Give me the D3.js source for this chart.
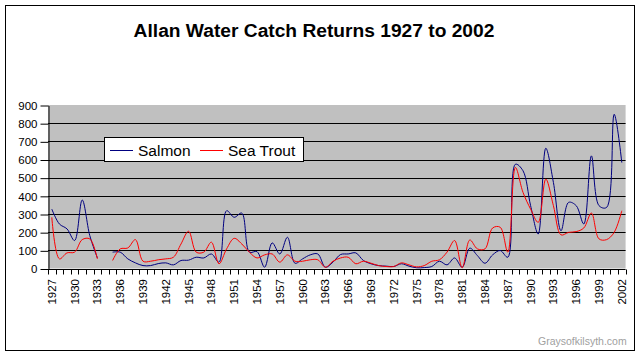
<!DOCTYPE html>
<html><head><meta charset="utf-8">
<script src="https://cdn.jsdelivr.net/npm/d3@7"></script>
<style>
html,body{margin:0;padding:0;background:#fff;}
svg{display:block;font-family:"Liberation Sans",Arial,sans-serif;}
</style></head>
<body><svg id="c" width="641" height="356"></svg>
<script>
const years = d3.range(1927, 2003).map(String);
const yTicks = [0,100,200,300,400,500,600,700,800,900];
const xLabelYears = d3.range(1927, 2003, 3).map(String);
const seriesNames = ["Salmon", "Sea Trout"];
const seriesColors = ["#000080", "#FF0000"];
const salmon = [327,245,218,154,377,181,58,null,90,90,53,31,16,16,27,31,20,44,46,
  62,58,80,35,318,282,305,90,93,7,141,80,172,29,53,75,80,7,
  35,77,80,86,44,26,16,13,11,26,13,4,5,11,40,20,58,7,
  112,71,29,75,99,62,574,538,346,190,662,474,208,364,346,245,620,346,336,849,583];
const seaTrout = [282,53,86,90,159,163,53,null,44,108,113,159,40,40,48,53,62,135,205,
  90,90,145,26,108,166,135,90,58,75,80,35,75,40,40,48,48,7,
  40,58,62,26,40,29,16,11,11,31,20,9,16,40,48,90,154,4,
  157,108,108,223,227,90,556,419,327,254,492,346,185,199,203,223,305,163,159,199,318];
const seriesData = [salmon, seaTrout];

const svg = d3.select("#c");
const L = 48, R = 625.6, T = 105, B = 268.5;

svg.append("rect").attr("x",5.5).attr("y",5.5).attr("width",629).attr("height",345)
  .attr("fill","#fff").attr("stroke","#000").attr("stroke-width",1);

svg.append("text").attr("x",314).attr("y",37).attr("text-anchor","middle")
  .attr("font-size",19.2).attr("font-weight","bold").text("Allan Water Catch Returns 1927 to 2002");

const x = d3.scaleBand().domain(years).range([L, R]).padding(0);
const y = d3.scaleLinear().domain([0, 900]).range([B, T]);

svg.append("rect").attr("x",L).attr("y",T).attr("width",R-L).attr("height",B-T).attr("fill","#C0C0C0");

// gridlines
svg.append("g").selectAll("line").data(yTicks.filter(d=>d>0 && d<900)).join("line")
  .attr("x1",L).attr("x2",R).attr("y1",d=>Math.round(y(d))+0.5).attr("y2",d=>Math.round(y(d))+0.5)
  .attr("stroke","#000").attr("stroke-width",1);

// y axis
const yAxis = d3.axisLeft(y).tickValues(yTicks).tickSize(8).tickPadding(3).tickSizeOuter(0);
const gy = svg.append("g").attr("transform",`translate(${L+0.5},0.5)`).call(yAxis);
gy.selectAll("text").attr("font-size",11.5).attr("font-family","Liberation Sans, Arial, sans-serif").attr("fill","#000");
gy.selectAll("line,path").attr("stroke","#000");

// x axis
const xb = Math.round(B)+0.5;
svg.append("line").attr("x1",L).attr("x2",R).attr("y1",xb).attr("y2",xb).attr("stroke","#000");
const bounds = years.map(d=>x(d)).concat([R]);
svg.append("g").selectAll("line").data(bounds).join("line")
  .attr("x1",d=>Math.round(d)+0.5).attr("x2",d=>Math.round(d)+0.5)
  .attr("y1",xb).attr("y2",xb+5).attr("stroke","#000");
svg.append("g").selectAll("text").data(xLabelYears).join("text")
  .attr("transform",d=>`translate(${x(d)+x.bandwidth()/2},279) rotate(-90)`)
  .attr("text-anchor","end").attr("dy","0.35em").attr("font-size",11.5).text(d=>d);

// lines
const line = d3.line().defined(d=>d[1]!==null)
  .x(d=>x(d[0])+x.bandwidth()/2).y(d=>y(d[1])).curve(d3.curveCatmullRom.alpha(0.5));
seriesData.forEach((s,i)=>{
  svg.append("path").datum(years.map((yr,j)=>[yr,s[j]]))
    .attr("d",line).attr("fill","none").attr("stroke",seriesColors[i]).attr("stroke-width",1);
});

// legend
const lg = svg.append("g");
lg.append("rect").attr("x",104.5).attr("y",137.5).attr("width",199).attr("height",24)
  .attr("fill","#fff").attr("stroke","#000");
const lx = [110, 200];
seriesNames.forEach((n,i)=>{
  lg.append("line").attr("x1",lx[i]).attr("x2",lx[i]+23).attr("y1",150.5).attr("y2",150.5)
    .attr("stroke",seriesColors[i]).attr("stroke-width",1);
  lg.append("text").attr("x",lx[i]+28).attr("y",156).attr("font-size",15.5).text(n);
});

svg.append("text").attr("x",538).attr("y",345).attr("font-size",10.5).attr("fill","#a0a0a0")
  .attr("font-family","Liberation Sans Narrow, Arial Narrow, Liberation Sans, sans-serif").text("Graysofkilsyth.com");
</script></body></html>
